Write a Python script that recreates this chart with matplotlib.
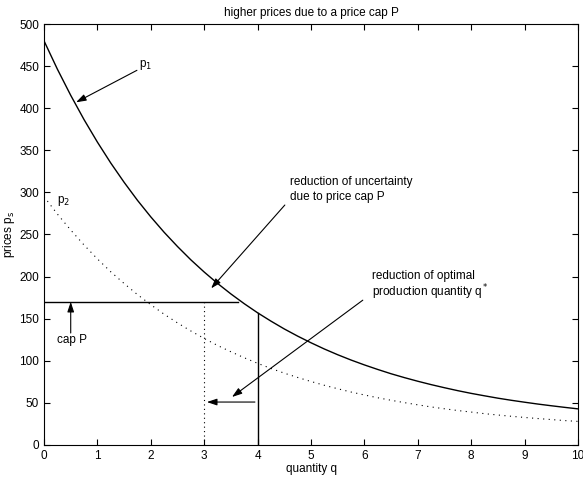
import matplotlib
matplotlib.use("Agg")
import matplotlib.pyplot as plt

plt.rcParams['font.family'] = ['Liberation Sans', 'DejaVu Sans']

# werte (schritt 0.25)
q = [0, 0.25, 0.5, 0.75, 1, 1.25, 1.5, 1.75, 2, 2.25, 2.5, 2.75, 3, 3.25, 3.5, 3.75, 4,
     4.25, 4.5, 4.75, 5, 5.25, 5.5, 5.75, 6, 6.25, 6.5, 6.75, 7, 7.25, 7.5, 7.75, 8,
     8.25, 8.5, 8.75, 9, 9.25, 9.5, 9.75, 10]
p1 = [480, 446.4, 415.3, 386.4, 359.7, 334.9, 312.0, 290.6, 270.9, 252.6, 235.7, 219.9, 205.4,
      191.9, 179.4, 167.8, 157.0, 147.1, 137.8, 129.3, 121.4, 114.0, 107.2, 100.9, 95.1,
      89.7, 84.6, 80.0, 75.7, 71.7, 68.0, 64.5, 61.3, 58.4, 55.6, 53.1, 50.8, 48.6, 46.6,
      44.7, 42.9]
p2 = [295, 274.3, 255.3, 237.5, 221.0, 205.7, 191.8, 178.6, 166.6, 155.3, 145.0, 135.4, 126.5,
      118.2, 110.7, 103.6, 97.0, 90.9, 85.3, 80.2, 75.4, 70.9, 66.8, 62.9, 59.4,
      56.1, 53.1, 50.3, 47.7, 45.2, 43.0, 40.9, 39.1, 37.2, 35.6, 34.1, 32.7, 31.4, 30.2,
      29.0, 28.0]

cap = 170
cap_end = 3.63
q_opt = 4
q_opt_cap = 3
p1_at_qopt = 157

fig = plt.figure(figsize=(5.83, 4.83), dpi=100)
ax = fig.add_axes([0.0755, 0.0787, 0.9159, 0.8716])

ax.plot(q, p1, color='black', lw=1.0)
ax.plot(q, p2, color='black', lw=0.8, linestyle=(0, (1, 4)))

ax.plot([0, cap_end], [cap, cap], color='black', lw=1.0)
ax.plot([q_opt, q_opt], [0, p1_at_qopt], color='black', lw=1.0)
ax.plot([q_opt_cap, q_opt_cap], [0, cap], color='black', lw=0.8, linestyle=(0, (1, 3)))

pfeil = dict(arrowstyle='-|>,head_length=0.6,head_width=0.2', color='black', lw=0.8,
             shrinkA=0, shrinkB=0)
fs = 8.5

ax.annotate('', xy=(0.6, 407), xytext=(1.74, 445), arrowprops=pfeil)
ax.text(1.78, 451, r'p$_1$', fontsize=fs, va='center')
ax.text(0.24, 290, r'p$_2$', fontsize=fs, va='center')

ax.annotate('', xy=(3.13, 186), xytext=(4.51, 285), arrowprops=pfeil)
ax.text(4.61, 312, 'reduction of uncertainty', fontsize=fs, va='center')
ax.text(4.61, 295, 'due to price cap P', fontsize=fs, va='center')

ax.annotate('', xy=(3.52, 57), xytext=(5.97, 172), arrowprops=pfeil)
ax.text(6.14, 201, 'reduction of optimal', fontsize=fs, va='center')
ax.text(6.14, 182, r'production quantity q$^*$', fontsize=fs, va='center')

ax.annotate('', xy=(3.05, 51), xytext=(3.95, 51), arrowprops=pfeil)

ax.annotate('', xy=(0.5, 170), xytext=(0.5, 133), arrowprops=pfeil)
ax.text(0.24, 125, 'cap P', fontsize=fs, va='center')

ax.set_xlim(0, 10)
ax.set_ylim(0, 500)
ax.set_xticks(range(0, 11))
ax.set_yticks(range(0, 501, 50))
ax.tick_params(direction='in', top=True, right=True, labelsize=fs, length=4, width=0.8)
for s in ax.spines.values():
    s.set_linewidth(0.8)

ax.set_title('higher prices due to a price cap P', fontsize=fs, pad=6)
ax.set_xlabel('quantity q', fontsize=fs, labelpad=1)
ax.set_ylabel(r'prices p$_\mathrm{s}$', fontsize=fs, labelpad=2)

fig.savefig('out.png', dpi=100)
